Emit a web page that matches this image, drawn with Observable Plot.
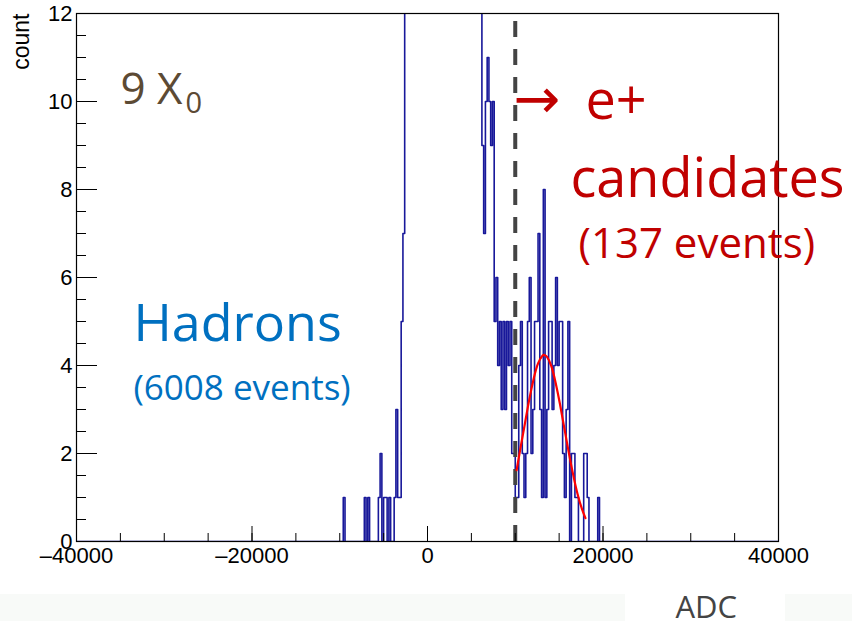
<!DOCTYPE html>
<html><head><meta charset="utf-8">
<script src="https://cdn.jsdelivr.net/npm/d3@7"></script>
<script src="https://cdn.jsdelivr.net/npm/@observablehq/plot@0.6"></script>
<style>
html,body{margin:0;padding:0;background:#fff;}
#wrap{position:relative;width:852px;height:621px;overflow:hidden;background:#fff;}
#band{position:absolute;left:0;top:594px;width:852px;height:27px;background:#f8faf8;}
#adcbox{position:absolute;left:625px;top:594px;width:160px;height:27px;background:#fff;}
#chart{position:absolute;left:0;top:0;}
</style></head><body>
<div id="wrap"><div id="band"></div><div id="adcbox"></div><div id="chart"></div></div>
<script>
// ---- data (ADC bins of width 200, left edges; bins not listed are empty) ----
const xMin = -40000, xMax = 40000, binWidth = 200;
const binLeft = [
  -9600, -7200, -6800, -5600, -5400, -5000, -4800, -4400, -3800, -3600, -3400, -3200, -3000, -2800,
  -2600, -2400, -2200, -2000, -1800, -1600, -1400, -1200, -1000, -800, -600, -400, -200, 0,
  200, 400, 600, 800, 1000, 1200, 1400, 1600, 1800, 2000, 2200, 2400, 2600, 2800,
  3000, 3200, 3400, 3600, 3800, 4000, 4200, 4400, 4600, 4800, 5000, 5200, 5400, 5600, 5800, 6000,
  6200, 6400, 6600, 6800, 7000, 7200, 7400, 7600, 7800, 8000, 8200, 8400, 8600, 8800, 9000, 9200,
  9400, 9600, 9800, 10000, 10200, 10400, 10600, 10800, 11000, 11200, 11400, 11600, 11800, 12000,
  12200, 12400, 12600, 12800, 13000, 13200, 13400, 13600, 13800, 14000, 14200, 14400, 14600, 14800,
  15000, 15200, 15400, 15600, 15800, 16000, 16400, 16600, 16800, 17000, 17800, 18000, 18200, 19400
];
const binCount = [
  1, 1, 1, 1, 2, 1, 1, 1, 1, 3, 1, 1, 5, 7,
  15, 25, 40, 60, 80, 100, 120, 140, 160, 175, 190, 200, 210, 215,
  220, 225, 225, 222, 218, 212, 205, 198, 190, 180, 170, 160, 150, 140,
  128, 116, 104, 92, 80, 70, 60, 50, 42, 35, 29, 24, 20, 17, 14, 13,
  9, 7, 10, 11, 10, 9, 10, 5, 6, 4, 5, 3, 5, 3, 5, 4,
  5, 2, 2, 1, 1, 4, 5, 2, 1, 2, 5, 6, 2, 3,
  5, 5, 7, 3, 1, 8, 1, 3, 5, 5, 3, 4, 6, 4,
  5, 5, 2, 1, 3, 5, 2, 2, 1, 1, 2, 2, 1, 1
];
// Gaussian fit curve
const fitX = [10150, 10600, 11100, 11600, 12100, 12600, 13100, 13300, 13600, 14100, 14600, 15100, 15600, 16100, 16600, 17100, 17600, 18000];
const fitY = [1.62, 2.13, 2.68, 3.23, 3.70, 4.05, 4.22, 4.24, 4.20, 3.99, 3.61, 3.12, 2.57, 2.02, 1.52, 1.08, 0.74, 0.53];
const threshold = [10000];
const xMajor = [-40000, -20000, 0, 20000, 40000];
const xMinor = d3.range(-40000, 40001, 5000);
const yMajor = [0, 2, 4, 6, 8, 10, 12];
const yMinor = d3.range(0, 12.01, 0.5);

// ---- build tables ----
const counts = new Map(binLeft.map((b, i) => [b, binCount[i]]));
const hist = d3.range(xMin, xMax + binWidth, binWidth).map(x => ({x, y: counts.get(x) ?? 0}));
const fit = fitX.map((x, i) => ({x, y: fitY[i]}));
const fmtX = d => d < 0 ? "\u2013" + Math.abs(d) : String(d);

const ann = "Open Sans, Noto Sans, sans-serif";
const chart = Plot.plot({
  width: 852, height: 621,
  marginLeft: 76, marginRight: 74, marginTop: 13, marginBottom: 80,
  x: {domain: [xMin, xMax]},
  y: {domain: [0, 12]},
  style: {background: "transparent", fontFamily: "Liberation Sans, Arial, sans-serif", fontSize: "22px", color: "black", overflow: "visible"},
  marks: [
    Plot.line(hist, {x: "x", y: "y", curve: "step-after", stroke: "#18189a", strokeWidth: 1.6, clip: true}),
    Plot.ruleX(threshold, {y1: 0, y2: 12, stroke: "#444444", strokeWidth: 4, strokeDasharray: "16,12"}),
    Plot.line(fit, {x: "x", y: "y", curve: "natural", stroke: "#ff0000", strokeWidth: 2.2}),
    Plot.frame({stroke: "black", strokeWidth: 1.2}),
    Plot.axisX({ticks: xMinor, tickSize: -8, fill: "none", label: null}),
    Plot.axisX({ticks: xMajor, tickSize: -15, fill: "none", label: null}),
    Plot.axisX({ticks: xMajor, tickSize: 0, tickPadding: 6, label: null, fontSize: 22, tickFormat: fmtX}),
    Plot.axisY({ticks: yMinor, tickSize: -10, fill: "none", label: null}),
    Plot.axisY({ticks: yMajor, tickSize: -21, fill: "none", label: null}),
    Plot.axisY({ticks: yMajor, tickSize: 0, tickPadding: 4, label: null, fontSize: 22}),
    Plot.text(["count"], {frameAnchor: "top-left", dx: -55, dy: 0, rotate: -90, textAnchor: "end", lineAnchor: "middle", fontSize: 23}),
    Plot.text(["9 X"], {frameAnchor: "top-left", dx: 44, dy: 59, textAnchor: "start", lineAnchor: "top", fontSize: 44, fontFamily: ann, fill: "#5c4a34"}),
    Plot.text(["0"], {frameAnchor: "top-left", dx: 109, dy: 79, textAnchor: "start", lineAnchor: "top", fontSize: 29, fontFamily: ann, fill: "#5c4a34"}),
    Plot.text(["Hadrons"], {frameAnchor: "top-left", dx: 57, dy: 291, textAnchor: "start", lineAnchor: "top", fontSize: 52, fontFamily: ann, fill: "#0070c0"}),
    Plot.text(["(6008 events)"], {frameAnchor: "top-left", dx: 57, dy: 362, textAnchor: "start", lineAnchor: "top", fontSize: 35, fontFamily: ann, fill: "#0070c0"}),
    Plot.text(["\u2192"], {frameAnchor: "top-left", dx: 437, dy: 87, textAnchor: "start", lineAnchor: "middle", fontSize: 56, fontFamily: "DejaVu Sans", fill: "#c00000"}),
    Plot.text(["e+"], {frameAnchor: "top-left", dx: 509, dy: 67, textAnchor: "start", lineAnchor: "top", fontSize: 54, fontFamily: ann, fill: "#c00000"}),
    Plot.text(["candidates"], {frameAnchor: "top-left", dx: 494, dy: 145, textAnchor: "start", lineAnchor: "top", fontSize: 54, fontFamily: ann, fill: "#c00000"}),
    Plot.text(["(137 events)"], {frameAnchor: "top-left", dx: 502, dy: 215, textAnchor: "start", lineAnchor: "top", fontSize: 42, fontFamily: ann, fill: "#c00000"}),
    Plot.text(["ADC"], {frameAnchor: "top-left", dx: 599, dy: 582, textAnchor: "start", lineAnchor: "top", fontSize: 31, fontFamily: ann, fill: "#444444"})
  ]
});
document.getElementById("chart").appendChild(chart);
</script></body></html>
